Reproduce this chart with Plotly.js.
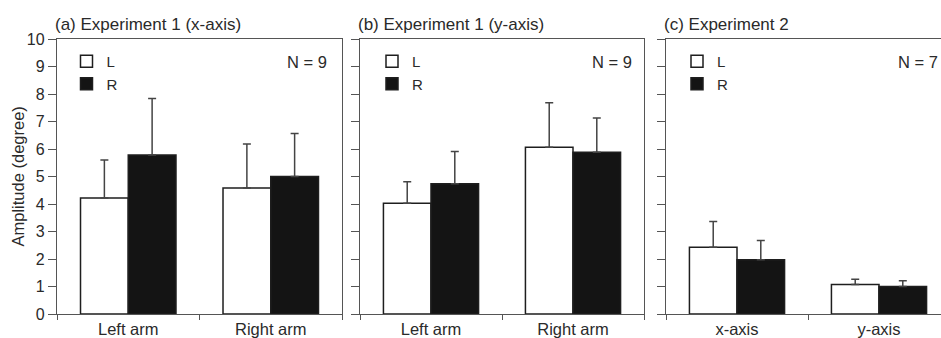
<!DOCTYPE html>
<html>
<head>
<meta charset="utf-8">
<script src="https://cdn.plot.ly/plotly-3.0.1.min.js"></script>
<style>
html,body{margin:0;padding:0;overflow:hidden;background:#fff;}
#chart{width:960px;height:338px;}
</style>
</head>
<body>
<div id="chart"></div>
<script>
// ---- data ----
var categoriesAB = ['Left arm', 'Right arm'];
var categoriesC = ['x-axis', 'y-axis'];
var panelTitles = ['(a) Experiment 1 (x-axis)', '(b) Experiment 1 (y-axis)', '(c) Experiment 2'];
var panelN = ['N = 9', 'N = 9', 'N = 7'];
var yTicks = [0, 1, 2, 3, 4, 5, 6, 7, 8, 9, 10];

var aL = [4.22, 4.58];
var aLerr = [1.38, 1.60];
var aR = [5.78, 5.00];
var aRerr = [2.06, 1.56];

var bL = [4.03, 6.06];
var bLerr = [0.78, 1.62];
var bR = [4.74, 5.88];
var bRerr = [1.17, 1.25];

var cL = [2.43, 1.07];
var cLerr = [0.93, 0.19];
var cR = [1.97, 1.00];
var cRerr = [0.70, 0.21];

// ---- styling ----
var FONT = 'Arial, "Liberation Sans", sans-serif';
var TXT = '#2a2a2a';
var LINE = '#555';

function barTrace(name, x, y, err, fill, xa, ya, legend, group) {
  return {
    type: 'bar', name: name, x: x, y: y,
    xaxis: xa, yaxis: ya, legend: legend, legendgroup: group,
    marker: {color: fill, line: {color: '#1e1e1e', width: 1.5}},
    error_y: {type: 'data', array: err, arrayminus: err.map(function(){return 0;}),
              symmetric: false, color: '#444', thickness: 1.5, width: 4},
    hoverinfo: 'skip'
  };
}

var data = [
  barTrace('L', categoriesAB, aL, aLerr, '#ffffff', 'x', 'y', 'legend', 'L'),
  barTrace('R', categoriesAB, aR, aRerr, '#141414', 'x', 'y', 'legend', 'R'),
  barTrace('L', categoriesAB, bL, bLerr, '#ffffff', 'x2', 'y2', 'legend2', 'L2'),
  barTrace('R', categoriesAB, bR, bRerr, '#141414', 'x2', 'y2', 'legend2', 'R2'),
  barTrace('L', categoriesC, cL, cLerr, '#ffffff', 'x3', 'y3', 'legend3', 'L3'),
  barTrace('R', categoriesC, cR, cRerr, '#141414', 'x3', 'y3', 'legend3', 'R3')
];

var W = 960, H = 338, ML = 57, MR = 10, MT = 39, MB = 24;
var PW = W - ML - MR;
function dom(a, b) { return [(a - ML) / PW, (b - ML) / PW]; }

function xax(domain, anchor) {
  return {
    domain: domain, anchor: anchor, type: 'category', range: [-0.5, 1.5],
    showline: true, linecolor: LINE, linewidth: 1.2, mirror: true,
    ticks: 'outside', tickson: 'boundaries', ticklen: 5, tickcolor: LINE, tickwidth: 1,
    showgrid: false, zeroline: false,
    tickfont: {family: FONT, size: 16.5, color: TXT}, fixedrange: true
  };
}
function yax(anchor, labels) {
  return {
    domain: [0, 1], anchor: anchor, range: [0, 10], tickvals: yTicks,
    showline: true, linecolor: LINE, linewidth: 1.2, mirror: true,
    ticks: 'outside', ticklen: 8, tickcolor: LINE, tickwidth: 1,
    showticklabels: labels, showgrid: false, zeroline: false,
    tickfont: {family: FONT, size: 16, color: TXT}, fixedrange: true
  };
}

function legendCfg(xpx) {
  return {
    x: (xpx - ML) / PW, xanchor: 'left', y: (314 - 45) / 275, yanchor: 'top',
    bgcolor: 'rgba(0,0,0,0)', borderwidth: 0,
    font: {family: FONT, size: 15, color: TXT},
    tracegroupgap: 0, traceorder: 'grouped', itemclick: false, itemdoubleclick: false
  };
}

var annotations = [];
var xrefs = ['x', 'x2', 'x3'], yrefs = ['y', 'y2', 'y3'];
var nShift = [-13, -10, -10];
for (var i = 0; i < 3; i++) {
  annotations.push({
    text: panelTitles[i], xref: xrefs[i] + ' domain', yref: yrefs[i] + ' domain',
    x: 0, y: 1, xanchor: 'left', yanchor: 'bottom', xshift: -4, yshift: 3,
    showarrow: false, font: {family: FONT, size: 17, color: TXT}
  });
  annotations.push({
    text: panelN[i], xref: xrefs[i] + ' domain', yref: yrefs[i] + ' domain',
    x: 1, y: (314 - 62) / 275, xanchor: 'right', yanchor: 'middle', xshift: nShift[i],
    showarrow: false, font: {family: FONT, size: 16.5, color: TXT}
  });
}
annotations.push({
  text: 'Amplitude (degree)', xref: 'paper', yref: 'paper',
  x: (17 - ML) / PW, y: 0.5, xanchor: 'center', yanchor: 'middle', textangle: -90,
  showarrow: false, font: {family: FONT, size: 16.5, color: TXT}
});

var layout = {
  width: W, height: H,
  margin: {l: ML, r: MR, t: MT, b: MB, pad: 0},
  paper_bgcolor: '#ffffff', plot_bgcolor: '#ffffff',
  barmode: 'group', bargap: 0.33, bargroupgap: 0,
  showlegend: true,
  font: {family: FONT, color: TXT},
  xaxis: xax(dom(57, 342), 'y'),
  xaxis2: xax(dom(360, 644), 'y2'),
  xaxis3: xax(dom(666, 950), 'y3'),
  yaxis: yax('x', true),
  yaxis2: yax('x2', false),
  yaxis3: yax('x3', false),
  legend: legendCfg(66.5),
  legend2: legendCfg(372),
  legend3: legendCfg(677),
  annotations: annotations
};

Plotly.newPlot('chart', data, layout, {displayModeBar: false, staticPlot: true});
</script>
</body>
</html>
